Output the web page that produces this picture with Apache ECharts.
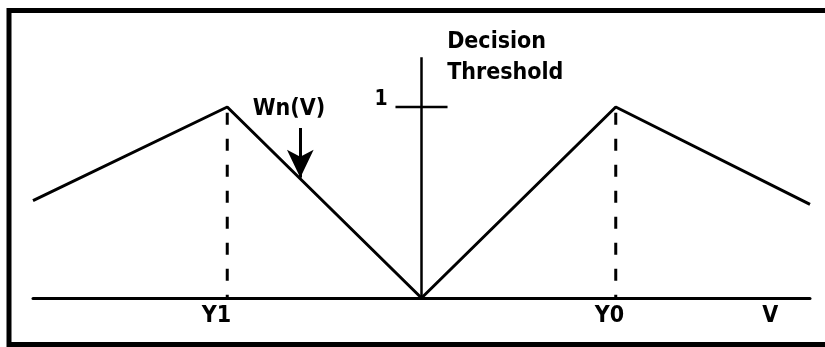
<!DOCTYPE html>
<html>
<head>
<meta charset="utf-8">
<script src="https://cdn.jsdelivr.net/npm/echarts@6/dist/echarts.min.js"></script>
<style>html,body{margin:0;padding:0;background:#fff}#c{width:825px;height:347px}</style>
</head>
<body>
<div id="c"></div>
<script>
// Curve Wn(V)
const curveX = [0, 25, 50, 75, 100];
const curveY = [0.51, 1, 0, 1, 0.49];
// Peaks (Y1, Y0) dropped to the axis
const peakX = [25, 75];
const peakY = [1, 1];
// Decision threshold
const thresholdX = 50;
const thresholdTop = 1.26;
const thresholdTickLevel = 1;
const thresholdTickHalf = 3.35;
// Arrow pointing to Wn(V)
const arrowX = 34.4;
const arrowFrom = 0.89;
const arrowTo = 0.63;
// Axis tick labels
const tickLabels = ['Y1', 'Y0', 'V'];
const tickPositions = [23.6, 74.2, 94.9];
// Annotations
const noteTexts = ['Decision', 'Threshold', 'Wn(V)', '1'];
const noteX = [53.3, 53.3, 32.95, 44.8];
const noteY = [1.338, 1.178, 0.99, 1.037];
const noteAlign = ['left', 'left', 'center', 'center'];

const FONT = '"DejaVu Sans Condensed", "DejaVu Sans", sans-serif';
const chart = echarts.init(document.getElementById('c'), null, {renderer: 'canvas'});

const dropSeries = peakX.map((x, i) => ({
  type: 'line',
  data: [[x, peakY[i] - 0.03], [x, 0]],
  symbol: 'none',
  lineStyle: {color: '#000', width: 3, type: [12, 14], dashOffset: 0, cap: 'butt'},
  z: 2
}));

chart.setOption({
  animation: false,
  backgroundColor: '#fff',
  graphic: [{
    type: 'rect',
    shape: {x: 9, y: 10.5, width: 900, height: 334},
    style: {fill: 'none', stroke: '#000', lineWidth: 5},
    silent: true
  }],
  grid: {left: 33, right: 15, top: 11.5, bottom: 49},
  xAxis: {
    type: 'value', min: 0, max: 100,
    axisLine: {show: true, onZero: false, lineStyle: {color: '#000', width: 3}},
    axisTick: {show: false},
    splitLine: {show: false},
    axisLabel: {
      customValues: tickPositions,
      formatter: (v) => tickLabels[tickPositions.indexOf(v)] || '',
      color: '#000', fontFamily: FONT, fontSize: 23, fontWeight: 'bold', margin: 7
    }
  },
  yAxis: {
    type: 'value', min: 0, max: 1.5, show: false,
    splitLine: {show: false}
  },
  series: [
    {
      type: 'line',
      data: curveX.map((x, i) => [x, curveY[i]]),
      symbol: 'none',
      lineStyle: {color: '#000', width: 3},
      z: 3
    },
    ...dropSeries,
    {
      type: 'line',
      data: [[thresholdX, 0], [thresholdX, thresholdTop]],
      symbol: 'none',
      lineStyle: {color: '#000', width: 2.5}
    },
    {
      type: 'line',
      data: [[thresholdX - thresholdTickHalf, thresholdTickLevel], [thresholdX + thresholdTickHalf, thresholdTickLevel]],
      symbol: 'none',
      lineStyle: {color: '#000', width: 2.5}
    },
    {
      type: 'line',
      data: [],
      markLine: {
        silent: true,
        symbol: ['none', 'arrow'],
        symbolSize: [20, 28],
        label: {show: false},
        lineStyle: {color: '#000', width: 3, type: 'solid'},
        data: [[{coord: [arrowX, arrowFrom]}, {coord: [arrowX, arrowTo]}]]
      }
    },
    {
      type: 'scatter',
      symbolSize: 0,
      clip: false,
      itemStyle: {opacity: 1},
      data: noteTexts.map((t, i) => ({
        value: [noteX[i], noteY[i]],
        label: {
          show: true, position: 'inside', formatter: t,
          align: noteAlign[i], verticalAlign: 'middle',
          color: '#000', fontFamily: FONT, fontWeight: 'bold',
          fontSize: t === '1' ? 21 : 23
        }
      }))
    }
  ]
});
</script>
</body>
</html>
